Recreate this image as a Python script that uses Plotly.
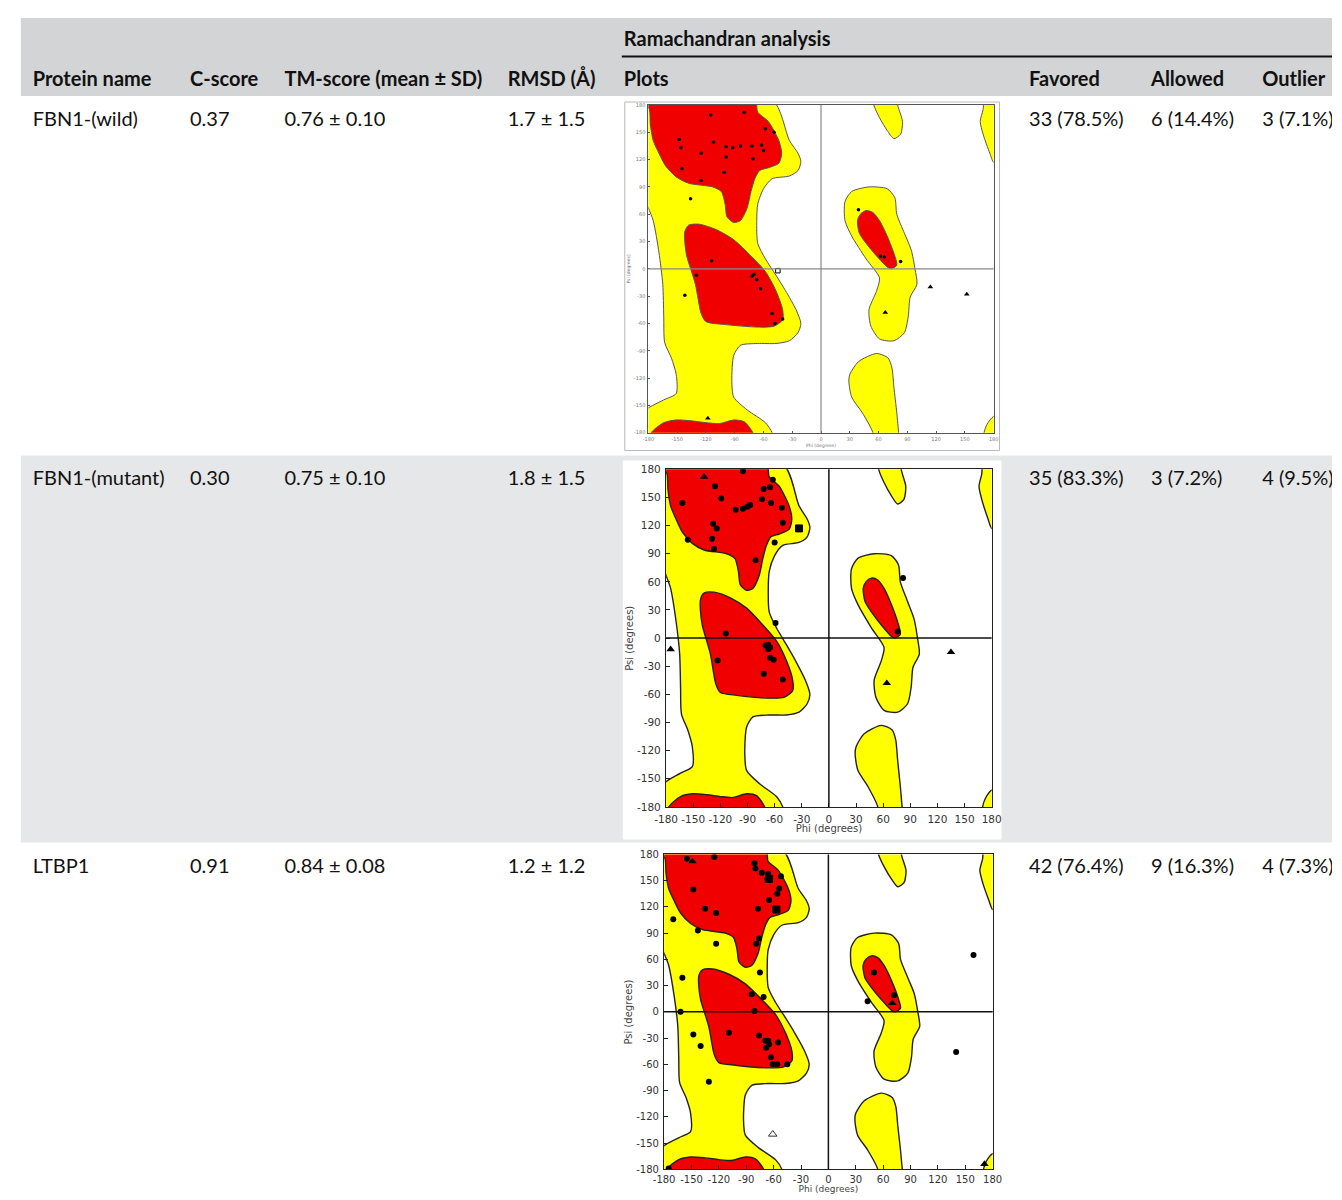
import plotly.graph_objects as go

W, H = 1342, 1200

# ---------------- table data ----------------
header_top = "Ramachandran analysis"
columns = ["Protein name", "C-score", "TM-score (mean ± SD)", "RMSD (Å)", "Plots", "Favored", "Allowed", "Outlier"]
proteins = ["FBN1-(wild)", "FBN1-(mutant)", "LTBP1"]
c_scores = ["0.37", "0.30", "0.91"]
tm_scores = ["0.76 ± 0.10", "0.75 ± 0.10", "0.84 ± 0.08"]
rmsd = ["1.7 ± 1.5", "1.8 ± 1.5", "1.2 ± 1.2"]
favored = ["33 (78.5%)", "35 (83.3%)", "42 (76.4%)"]
allowed = ["6 (14.4%)", "3 (7.2%)", "9 (16.3%)"]
outlier = ["3 (7.1%)", "4 (9.5%)", "4 (7.3%)"]

# ---------------- Ramachandran axes ----------------
tick_values = [-180, -150, -120, -90, -60, -30, 0, 30, 60, 90, 120, 150, 180]
tick_labels = ["-180", "-150", "-120", "-90", "-60", "-30", "0", "30", "60", "90", "120", "150", "180"]

# region outlines (phi, psi) in degrees
E = 186
yellow_left_phi = [-E, -51, -33, -24, -21, -24, -33, -51, -60, -66, -67, -66, -58, -47, -37, -26, -21, -24, -33, -47, -66, -84, -91, -93, -91, -77, -58, -51, -50, -E, -E, -164, -151, -151, -156, -163, -164, -165, -169, -175, -E]
yellow_left_psi = [E, E, 141, 127, 118, 108, 102, 99, 88, 71, 53, 28, 11, -7, -24, -45, -60, -70, -79, -82, -82, -84, -95, -123, -141, -155, -169, -180, -E, -E, -158, -144, -137, -116, -98, -81, -52, -17, 18, 53, 85]
red_beta_phi = [-E, -69, -66, -55, -44, -41, -44, -55, -64, -69, -73, -77, -84, -91, -98, -100, -104, -113, -138, -151, -162, -169, -175, -178, -179]
red_beta_psi = [E, E, 172, 162, 141, 127, 116, 111, 108, 99, 85, 67, 53, 51, 57, 71, 85, 90, 94, 101, 113, 127, 141, 159, 175]
red_alpha_phi = [-142, -138, -127, -109, -91, -73, -58, -47, -40, -40, -49, -66, -102, -120, -125, -131, -140, -142]
red_alpha_psi = [41, 48, 49, 43, 32, 14, -3, -24, -45, -56, -63, -64, -61, -58, -49, -17, 14, 29]
red_bottom_phi = [-177, -164, -151, -135, -120, -106, -91, -80, -71, -70, -177]
red_bottom_psi = [-180, -169, -166, -167, -169, -170, -166, -168, -180, -E, -E]
yellow_la_phi = [25, 32, 50, 69, 77, 79, 87, 94, 98, 100, 93, 91, 87, 76, 61, 52, 50, 58, 61, 47, 32, 25]
yellow_la_psi = [74, 85, 90, 88, 78, 60, 39, 21, 0, -17, -31, -52, -70, -79, -77, -63, -45, -24, -10, 11, 36, 53]
red_la_phi = [38, 41, 47, 54, 61, 69, 77, 79, 73, 69, 58, 47, 40]
red_la_psi = [53, 60, 64, 62, 53, 36, 14, 4, 0, 2, 14, 28, 39]
yellow_lr_phi = [30, 39, 58, 70, 74, 76, 79, 81, 82, 53, 54, 43, 32, 29]
yellow_lr_psi = [-116, -102, -93, -98, -109, -130, -158, -180, -E, -E, -180, -158, -141, -123]
yellow_ur_phi = [54, 55, 61, 69, 76, 83, 85, 80, 81]
yellow_ur_psi = [E, 180, 166, 152, 143, 148, 162, 180, E]
yellow_tr_phi = [170, 171, E, E, 180, 176, 169, 166, 169]
yellow_tr_psi = [E, E, E, 117, 117, 127, 148, 162, 175]
yellow_br_phi = [E, 180, 173, 170, 170, E]
yellow_br_psi = [-162, -162, -171, -180, -E, -E]

# residues: FBN1 wild
wild_gen_phi = [-115, -80, -58, -49, -148, -146, -112, -99, -92, -84, -72, -62, -60, -125, -99, -71, -145, -101, -125, -136,
                -114, -130, -142, -72, -70, -67, -63, -51, -48, -40, 39, 62, 66, 83]
wild_gen_psi = [169, 172, 154, 150, 142, 133, 139, 134, 133, 135, 135, 136, 130, 127, 123, 121, 110, 106, 97, 77,
                9, -7, -29, -8, -6, -12, -22, -49, -60, -55, 65, 14, 13, 8]
wild_gly_phi = [114, 152, 67, -118]
wild_gly_psi = [-20, -28, -48, -164]
wild_pro_phi = [-45]
wild_pro_psi = [-2]

# FBN1 mutant
mut_gen_phi = [-162, -156, -126, -119, -128, -124, -129, -127, -95, -103, -95, -90, -87, -74, -72, -65, -62, -64, -52, -51,
               -60, -81, -59, -114, -70, -67, -65, -67, -65, -61, -123, -72, -51, 82, 76]
mut_gen_psi = [144, 105, 162, 149, 122, 117, 106, 95, 178, 137, 138, 140, 142, 148, 159, 161, 169, 144, 139, 123,
               102, 83, 16, 5, -8, -7, -10, -12, -21, -23, -24, -38, -44, 64, 7]
mut_gly_phi = [-138, -175, 64, 135]
mut_gly_psi = [172, -12, -48, -15]
mut_pro_phi = [-33]
mut_pro_psi = [117]

# LTBP1
ltbp_gen_phi = [-155, -125, -81, -80, -73, -66, -67, -52, -54, -56, -65, -58, -148, -135, -123, -77, -170, -143, -123, -76,
                -79, -75, -160, -71, -84, -81, -162, -109, -148, -140, -76, -69, -66, -65, -68, -55, -63, -61, -56, -45,
                -131, 50, 72, 43, 140, 159, -175]
ltbp_gen_psi = [175, 177, 170, 164, 159, 158, 152, 155, 141, 135, 128, 118, 140, 118, 113, 118, 106, 93, 78, 84,
                78, 45, 39, 17, 20, 1, 0, -24, -26, -39, -27, -33, -33, -37, -41, -35, -52, -60, -60, -60,
                -80, 45, 19, 12, -46, 65, -179]
ltbp_gly_phi = [-149, 70, 171]
ltbp_gly_psi = [172, 10, -174]
ltbp_pro_phi = [-65, -57]
ltbp_pro_psi = [152, 117]
ltbp_open_phi = [-61]
ltbp_open_psi = [-140]

# ---------------- layout geometry (pixels) ----------------
col_x = [21, 181, 277, 504, 622, 1034, 1158, 1271]
header_y = 76
group_y = 35
row_y = [116, 479, 871]

plots = [
    dict(x0=647, x1=998, y0=100, y1=431, style="small", lab=13, tick=5, labsize=4.5,
         gen=(wild_gen_phi, wild_gen_psi), gly=(wild_gly_phi, wild_gly_psi), pro=(wild_pro_phi, wild_pro_psi), opn=None),
    dict(x0=665, x1=996, y0=468, y1=809, style="big", lab=23, tick=10.5, labsize=10,
         gen=(mut_gen_phi, mut_gen_psi), gly=(mut_gly_phi, mut_gly_psi), pro=(mut_pro_phi, mut_pro_psi), opn=None),
    dict(x0=663, x1=997, y0=857, y1=1175, style="big", lab=20.5, tick=10, labsize=9,
         gen=(ltbp_gen_phi, ltbp_gen_psi), gly=(ltbp_gly_phi, ltbp_gly_psi), pro=(ltbp_pro_phi, ltbp_pro_psi),
         opn=(ltbp_open_phi, ltbp_open_psi)),
]

def px(x):
    return x / W

def py(y):
    return 1 - y / H

YELLOW = "#ffff00"
RED = "#f00000"

fig = go.Figure()
shapes = []
annotations = []

# backgrounds
shapes.append(dict(type="rect", xref="paper", yref="paper", x0=px(9), x1=1, y0=py(91), y1=py(12),
                   fillcolor="#d3d4d6", line=dict(width=0), layer="below"))
shapes.append(dict(type="rect", xref="paper", yref="paper", x0=px(9), x1=1, y0=py(845), y1=py(454),
                   fillcolor="#e6e7e8", line=dict(width=0), layer="below"))
shapes.append(dict(type="line", xref="paper", yref="paper", x0=px(620), x1=1, y0=py(51), y1=py(51),
                   line=dict(color="#111111", width=2)))
# image boxes
shapes.append(dict(type="rect", xref="paper", yref="paper", x0=px(623), x1=px(1004), y0=py(449), y1=py(97),
                   fillcolor="white", line=dict(color="#b8b8b8", width=1), layer="below"))
shapes.append(dict(type="rect", xref="paper", yref="paper", x0=px(621), x1=px(1006), y0=py(842), y1=py(459),
                   fillcolor="white", line=dict(width=0), layer="below"))
shapes.append(dict(type="rect", xref="paper", yref="paper", x0=px(620), x1=px(1006), y0=0, y1=py(848),
                   fillcolor="white", line=dict(width=0), layer="below"))

regions = [
    (yellow_left_phi, yellow_left_psi, YELLOW),
    (yellow_la_phi, yellow_la_psi, YELLOW),
    (yellow_lr_phi, yellow_lr_psi, YELLOW),
    (yellow_ur_phi, yellow_ur_psi, YELLOW),
    (yellow_tr_phi, yellow_tr_psi, YELLOW),
    (yellow_br_phi, yellow_br_psi, YELLOW),
    (red_beta_phi, red_beta_psi, RED),
    (red_alpha_phi, red_alpha_psi, RED),
    (red_bottom_phi, red_bottom_psi, RED),
    (red_la_phi, red_la_psi, RED),
]

# overlay text axis in pixel coordinates (clips overflowing text like the reference)
TX, TY = "x4", "y4"

layout_axes = {}
for i, p in enumerate(plots, start=1):
    xa = "x" if i == 1 else f"x{i}"
    ya = "y" if i == 1 else f"y{i}"
    small = p["style"] == "small"
    edge = "#555555" if small else "#222222"
    lw = 1.0 if small else 1.4
    for rx, ry, col in regions:
        fig.add_trace(go.Scatter(x=rx + [rx[0]], y=ry + [ry[0]], mode="lines", fill="toself", fillcolor=col,
                                 line=dict(color=edge, width=lw, shape="spline", smoothing=0.7),
                                 xaxis=xa, yaxis=ya, hoverinfo="skip", showlegend=False))
    ms = 3.5 if small else 6
    fig.add_trace(go.Scatter(x=p["gen"][0], y=p["gen"][1], mode="markers", xaxis=xa, yaxis=ya, showlegend=False,
                             marker=dict(symbol="circle", size=ms, color="black")))
    fig.add_trace(go.Scatter(x=p["gly"][0], y=p["gly"][1], mode="markers", xaxis=xa, yaxis=ya, showlegend=False,
                             marker=dict(symbol="triangle-up", size=ms + 1.5, color="black")))
    fig.add_trace(go.Scatter(x=p["pro"][0], y=p["pro"][1], mode="markers", xaxis=xa, yaxis=ya, showlegend=False,
                             marker=dict(symbol="square-open" if small else "square", size=ms + 1,
                                         color="black", line=dict(width=1, color="black"))))
    if p["opn"] is not None:
        fig.add_trace(go.Scatter(x=p["opn"][0], y=p["opn"][1], mode="markers", xaxis=xa, yaxis=ya, showlegend=False,
                                 marker=dict(symbol="triangle-up-open", size=ms + 1.5, color="#333333",
                                             line=dict(width=1))))
    zc = "#888888" if small else "#111111"
    shapes.append(dict(type="line", xref=f"{xa} domain", yref=ya, x0=0, x1=1, y0=0, y1=0,
                       line=dict(color=zc, width=1.2 if small else 1.5), layer="above"))
    shapes.append(dict(type="line", xref=xa, yref=f"{ya} domain", x0=0, x1=0, y0=0, y1=1,
                       line=dict(color=zc, width=1.2 if small else 1.5), layer="above"))
    tf = dict(size=p["tick"], color="#777777" if small else "#333333", family="DejaVu Sans")
    common = dict(range=[-180, 180], tickvals=tick_values, ticktext=tick_labels, showgrid=False, zeroline=False,
                  showline=True, mirror=True, linecolor=edge, linewidth=lw, ticks="inside",
                  ticklen=2 if small else 4, tickcolor=edge, tickfont=tf, layer="above traces", fixedrange=True)
    layout_axes["xaxis" if i == 1 else f"xaxis{i}"] = dict(common, domain=[px(p["x0"]), px(p["x1"])], anchor=ya,
                                                           ticklabelstandoff=1 if small else (1 if i == 3 else 2))
    layout_axes["yaxis" if i == 1 else f"yaxis{i}"] = dict(common, domain=[py(p["y1"]), py(p["y0"])], anchor=xa,
                                                           ticklabelstandoff=1 if small else 2)
    tcol = "#777777" if small else "#444444"
    fig.add_trace(go.Scatter(x=[(p["x0"] + p["x1"]) / 2], y=[p["y1"] + p["lab"]], mode="text",
                             text=["Phi (degrees)"], textposition="middle center", xaxis=TX, yaxis=TY,
                             textfont=dict(size=p["labsize"], color=tcol, family="DejaVu Sans"), showlegend=False,
                             hoverinfo="skip", cliponaxis=True))
    annotations.append(dict(text="Psi (degrees)", xref="paper", yref="paper", x=px(627),
                            y=py((p["y0"] + p["y1"]) / 2), showarrow=False, xanchor="center", yanchor="middle",
                            textangle=-90, font=dict(size=p["labsize"] if small else 10, color=tcol,
                                                     family="DejaVu Sans")))

# table text
FONT = "Lato"
FS = 20
bold_x = [col_x[4]] + list(col_x)
bold_y = [group_y] + [header_y] * len(columns)
bold_t = [f"<b>{header_top}</b>"] + [f"<b>{c}</b>" for c in columns]
fig.add_trace(go.Scatter(x=bold_x, y=bold_y, text=bold_t, mode="text", textposition="middle right",
                         textfont=dict(family=FONT, size=FS, color="#111111"), xaxis=TX, yaxis=TY,
                         showlegend=False, hoverinfo="skip", cliponaxis=True))
reg_x, reg_y, reg_t = [], [], []
for r in range(3):
    vals = [proteins[r], c_scores[r], tm_scores[r], rmsd[r], None, favored[r], allowed[r], outlier[r]]
    for cx, v in zip(col_x, vals):
        if v is None:
            continue
        reg_x.append(cx)
        reg_y.append(row_y[r])
        reg_t.append(v)
fig.add_trace(go.Scatter(x=reg_x, y=reg_y, text=reg_t, mode="text", textposition="middle right",
                         textfont=dict(family=FONT, size=FS, color="#111111"), xaxis=TX, yaxis=TY,
                         showlegend=False, hoverinfo="skip", cliponaxis=True))

layout_axes["xaxis4"] = dict(domain=[0, 1], range=[0, W], visible=False, fixedrange=True, anchor="y4")
layout_axes["yaxis4"] = dict(domain=[0, 1], range=[H, 0], visible=False, fixedrange=True, anchor="x4")

fig.update_layout(width=W, height=H, margin=dict(l=0, r=0, t=0, b=0), paper_bgcolor="white",
                  plot_bgcolor="rgba(0,0,0,0)", showlegend=False, shapes=shapes, annotations=annotations,
                  **layout_axes)

fig.write_html("out.html", config={"displayModeBar": False},
               post_script="document.body.style.margin='0';document.body.style.overflow='hidden';")
